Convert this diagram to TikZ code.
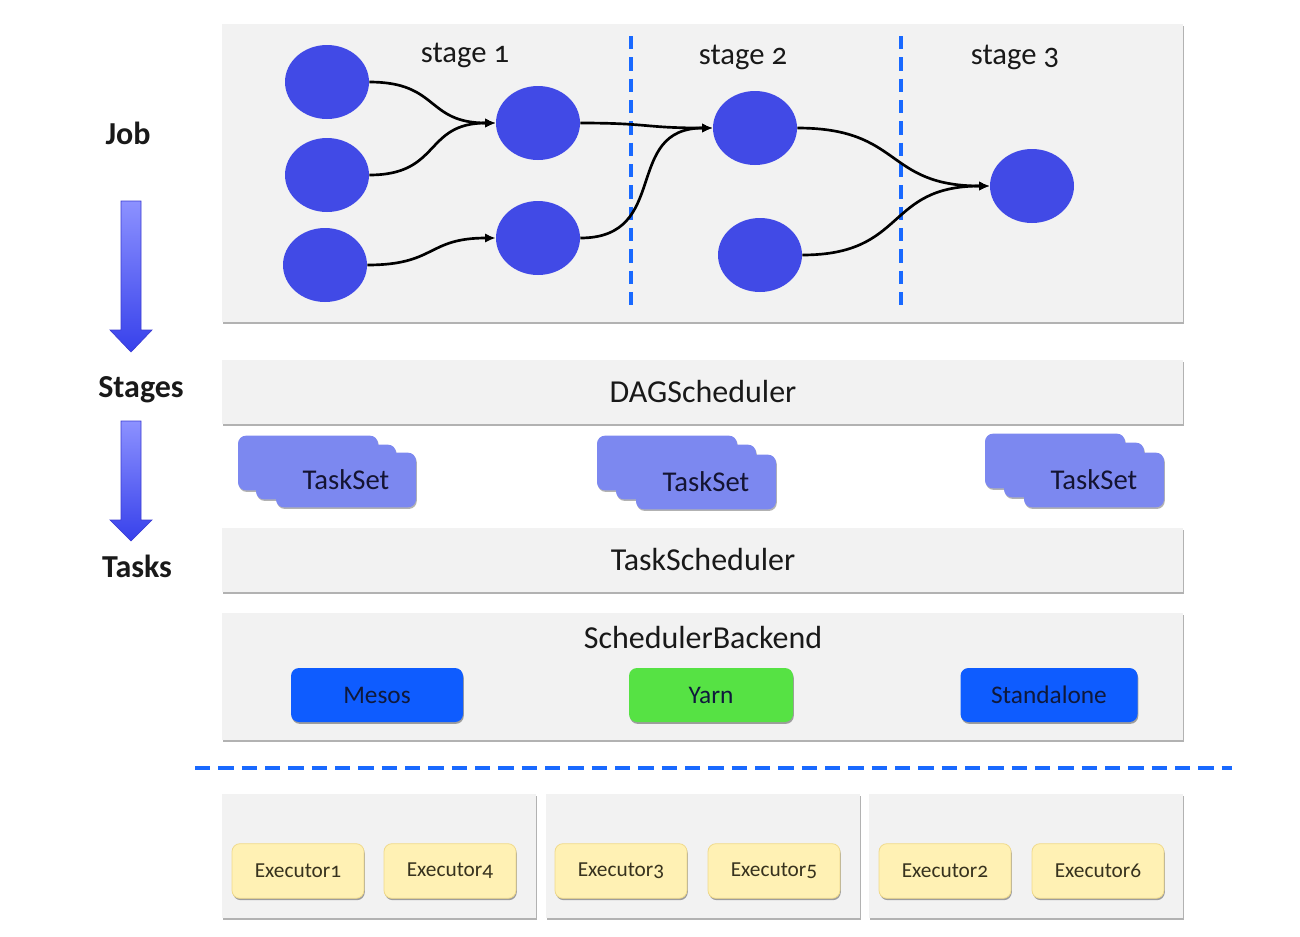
\documentclass[tikz,border=0pt]{standalone}
\usepackage{fontspec}
\setmainfont{Carlito}[Numbers=OldStyle]
\usetikzlibrary{shapes.geometric,arrows.meta,shadows}
\definecolor{panelgray}{HTML}{F2F2F2}
\definecolor{nodeblue}{RGB}{65,74,230}
\definecolor{taskcard}{RGB}{124,136,240}
\definecolor{dashblue}{RGB}{25,105,255}
\definecolor{mesosblue}{RGB}{14,92,255}
\definecolor{yarngreen}{RGB}{86,226,68}
\definecolor{execfill}{RGB}{255,241,180}
\definecolor{execline}{RGB}{240,218,140}
\definecolor{arrowtop}{RGB}{140,145,255}
\definecolor{arrowbot}{RGB}{55,65,235}
\definecolor{txt}{RGB}{25,25,25}
\begin{document}
\begin{tikzpicture}[x=0.75pt,y=-0.75pt,
  panel/.style={fill=panelgray, drop shadow={shadow xshift=0.6pt, shadow yshift=-1.6pt, opacity=0.3, fill=black}},
  dot/.style={ellipse, fill=nodeblue, minimum width=63pt, minimum height=55.5pt, inner sep=0pt},
  flow/.style={line width=2pt, looseness=1.35, -{Latex[length=8pt,width=7pt]}},
  stagedash/.style={draw=dashblue, line width=2.4pt, dash pattern=on 10pt off 6pt},
  sidelabel/.style={font=\fontsize{24pt}{28pt}\selectfont\bfseries, text=txt},
  title/.style={font=\fontsize{24pt}{28pt}\selectfont, text=txt},
  stagelabel/.style={font=\fontsize{23pt}{27pt}\selectfont, text=txt},
  card/.style={rounded corners=6pt, fill=taskcard, minimum width=105pt, minimum height=41pt, inner sep=0pt,
    font=\fontsize{21.5pt}{25pt}\selectfont, text={rgb,255:red,20;green,20;blue,50},
    drop shadow={shadow xshift=0.6pt, shadow yshift=-1.2pt, opacity=0.3, fill=black}},
  backend/.style={rounded corners=6pt, minimum height=40.5pt, inner sep=0pt,
    font=\fontsize{19pt}{23pt}\selectfont, text={rgb,255:red,15;green,25;blue,60},
    drop shadow={shadow xshift=0.6pt, shadow yshift=-1.4pt, opacity=0.35, fill=black}},
  executor/.style={rounded corners=6pt, fill=execfill, draw=execline, line width=0.6pt,
    minimum width=99pt, minimum height=41pt, inner sep=0pt,
    font=\fontsize{16pt}{19pt}\selectfont, text={rgb,255:red,55;green,50;blue,30},
    drop shadow={shadow xshift=0.6pt, shadow yshift=-1.4pt, opacity=0.35, fill=black}},
  bigarrow/.style={top color=arrowtop, bottom color=arrowbot, draw={rgb,255:red,60;green,60;blue,210}, line width=0.5pt}
]
\useasboundingbox (0,0) rectangle (1300,936);

% ---------- left side labels and arrows ----------
\node[sidelabel] (job) at (128,133) {Job};
\node[sidelabel] (stages) at (141,390) {Stages};
\node[sidelabel] (tasks) at (137,566) {Tasks};
\shade[bigarrow] (121,201) -- (141,201) -- (141,330) -- (152,330) -- (131,352) -- (110,330) -- (121,330) -- cycle;
\shade[bigarrow] (121,421) -- (141,421) -- (141,520) -- (152,520) -- (131,541) -- (110,520) -- (121,520) -- cycle;

% ---------- job panel ----------
\path[panel] (222,24) rectangle (1183,322);
\draw[stagedash] (631,36) -- (631,312);
\draw[stagedash] (901,36) -- (901,312);
\node[stagelabel] (s1) at (465,55) {stage 1};
\node[stagelabel] (s2) at (743,57) {stage 2};
\node[stagelabel] (s3) at (1015,57) {stage 3};

\node[dot] (a1) at (327,82) {};
\node[dot] (a2) at (327,175) {};
\node[dot] (a3) at (325,265) {};
\node[dot] (b1) at (538,123) {};
\node[dot] (b2) at (538,238) {};
\node[dot] (c1) at (755,128) {};
\node[dot] (c2) at (760,255) {};
\node[dot] (d1) at (1032,186) {};

\draw[flow] (a1.east) to[out=0,in=180] (b1.west);
\draw[flow] (a2.east) to[out=0,in=180] (b1.west);
\draw[flow] (a3.east) to[out=0,in=180] (b2.west);
\draw[flow] (b1.east) to[out=0,in=180] (c1.west);
\draw[flow] (b2.east) to[out=0,in=180] (c1.west);
\draw[flow] (c1.east) to[out=0,in=180] (d1.west);
\draw[flow] (c2.east) to[out=0,in=180] (d1.west);

% ---------- DAGScheduler ----------
\path[panel] (222,360) rectangle (1183,424);
\node[title] (dag) at (703,391) {DAGScheduler};

% ---------- TaskSets ----------
\node[card] (t1a) at (308,463) {};
\node[card] (t1b) at (326,472) {};
\node[card] (t1c) at (346,480) {TaskSet};
\node[card] (t2a) at (667,463) {};
\node[card] (t2b) at (686,472) {};
\node[card] (t2c) at (706,482) {TaskSet};
\node[card] (t3a) at (1055,461) {};
\node[card] (t3b) at (1074,470) {};
\node[card] (t3c) at (1094,480) {TaskSet};

% ---------- TaskScheduler ----------
\path[panel] (222,528) rectangle (1183,592);
\node[title] (ts) at (703,559) {TaskScheduler};

% ---------- SchedulerBackend ----------
\path[panel] (222,613) rectangle (1183,740);
\node[title] (sb) at (703,637) {SchedulerBackend};
\node[backend, fill=mesosblue, minimum width=129pt] (mesos) at (377,695) {Mesos};
\node[backend, fill=yarngreen, minimum width=123pt] (yarn) at (711,695) {Yarn};
\node[backend, fill=mesosblue, minimum width=132.75pt] (standalone) at (1049,695) {Standalone};

% ---------- separator ----------
\draw[draw=dashblue, line width=3pt, dash pattern=on 11.5pt off 6pt] (195,768) -- (1232,768);

% ---------- executors ----------
\path[panel] (222,794) rectangle (536,918);
\path[panel] (546,794) rectangle (860,918);
\path[panel] (869,794) rectangle (1183,918);
\node[executor] (e1) at (298,871) {Executor1};
\node[executor] (e4) at (450,871) {Executor4};
\node[executor] (e3) at (621,871) {Executor3};
\node[executor] (e5) at (774,871) {Executor5};
\node[executor] (e2) at (945,871) {Executor2};
\node[executor] (e6) at (1098,871) {Executor6};
\end{tikzpicture}
\end{document}
